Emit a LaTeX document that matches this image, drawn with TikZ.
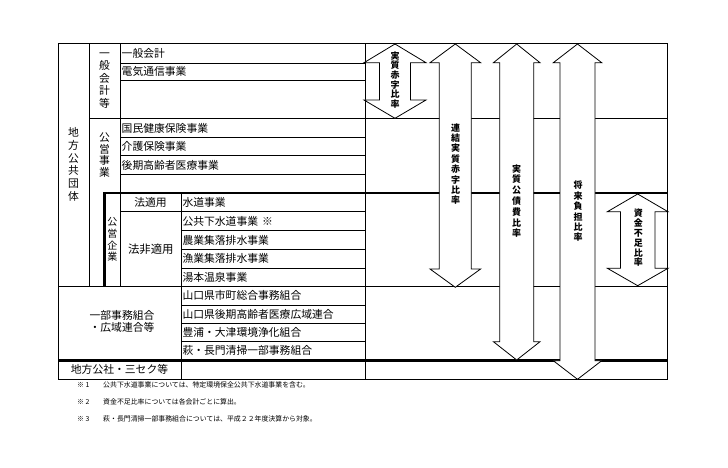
\documentclass[tikz,border=0pt]{standalone}
\usepackage{fontspec}
\setmainfont{Noto Sans CJK JP}
\newcommand{\dblarrow}[7]{% cx, head half, shaft half, tip1, base1, base2, tip2
  \draw[arr] (#1,#4) -- (#1+#2,#5) -- (#1+#3,#5) -- (#1+#3,#6) -- (#1+#2,#6) -- (#1,#7)
    -- (#1-#2,#6) -- (#1-#3,#6) -- (#1-#3,#5) -- (#1-#2,#5) -- cycle;}
\begin{document}
\begin{tikzpicture}[x=1pt,y=-1pt,
  tl/.style={line width=0.9pt},
  tk/.style={line width=2.5pt},
  cell/.style={font=\fontsize{10.8}{12}\selectfont, inner sep=0pt, anchor=west},
  ctext/.style={font=\fontsize{10.8}{12.5}\selectfont, inner sep=0pt, align=center},
  alabel/.style={inner sep=0pt, align=center},
  note/.style={font=\fontsize{6.9}{8}\selectfont, inner sep=0pt, anchor=west},
  arr/.style={draw, fill=white, line width=0.8pt, line join=miter}
]
\useasboundingbox (0,0) rectangle (728,468);
% outer frame
\draw[tl] (58,43.3) rectangle (667.5,379.3);
% vertical lines
\draw[tl] (89,43.3) -- (89,286);
\draw[tl] (120,43.3) -- (120,286);
\draw[tl] (181,193) -- (181,379.3);
\draw[tl] (365,43.3) -- (365,379.3);
\draw[tk] (104.3,193) -- (104.3,286);
% horizontal thin lines (left part)
\foreach \yy in {63.3,80.3,137.7,155.7,174.3,211.7} \draw[tl] (120,\yy) -- (365,\yy);
\foreach \yy in {230.7,249.3,268.3,305,323.3,341.7} \draw[tl] (181,\yy) -- (365,\yy);
\draw[tl] (89,118.3) -- (667.5,118.3);
\draw[tl] (58,286) -- (667.5,286);
\draw[tk] (103.1,193) -- (667.5,193);
\draw[tk] (58,360.5) -- (667.5,360.5);
% vertical labels
\node[ctext, font=\fontsize{10.8}{12.7}\selectfont] (ltitle) at (73.5,164.5) {地\\方\\公\\共\\団\\体};
\node[ctext] (lippan) at (104.5,80.5) {一\\般\\会\\計\\等};
\node[ctext, font=\fontsize{10.8}{11.7}\selectfont] (koei) at (104.5,155) {公\\営\\事\\業};
\node[ctext, font=\fontsize{10}{11.7}\selectfont] (kigyo) at (112.3,239.5) {公\\営\\企\\業};
\node[ctext] (hotekiyo) at (150.5,202.3) {法適用};
\node[ctext, font=\fontsize{11.4}{12.5}\selectfont] (hihotekiyo) at (150.8,249) {法非適用};
\node[ctext, font=\fontsize{10.8}{12.5}\selectfont] (kumiai) at (122,321.5) {一部事務組合\\・広域連合等};
\node[ctext] (kosha) at (119.5,369.8) {地方公社・三セク等};
% names
\node[cell] (c1) at (121.5,53.3) {一般会計};
\node[cell] (c2) at (121.5,71.8) {電気通信事業};
\node[cell] (c3) at (121.5,128) {国民健康保険事業};
\node[cell] (c4) at (121.5,146.7) {介護保険事業};
\node[cell] (c5) at (121.5,165) {後期高齢者医療事業};
\node[cell] (c6) at (182.3,202.3) {水道事業};
\node[cell] (c7) at (182.3,221.2) {公共下水道事業\hspace{4pt}※};
\node[cell] (c8) at (182.3,240) {農業集落排水事業};
\node[cell] (c9) at (182.3,258.8) {漁業集落排水事業};
\node[cell] (c10) at (182.3,277.2) {湯本温泉事業};
\node[cell] (c11) at (182.3,295.5) {山口県市町総合事務組合};
\node[cell] (c12) at (182.3,314.2) {山口県後期高齢者医療広域連合};
\node[cell] (c13) at (182.3,332.5) {豊浦・大津環境浄化組合};
\node[cell] (c14) at (182.3,350.8) {萩・長門清掃一部事務組合};
% arrows
\dblarrow{395}{31}{15.5}{44}{62.7}{100}{118.3}
\dblarrow{455.3}{25.3}{16}{44}{62.7}{269}{287.3}
\dblarrow{516.7}{23.3}{17}{44}{62.7}{341.7}{360}
\dblarrow{577.5}{24.2}{17.5}{44}{62.7}{360.7}{379.3}
\dblarrow{637.7}{30.3}{17.3}{194}{211.7}{268.3}{285.7}
\node[alabel, font=\fontsize{9}{9.7}\selectfont\bfseries] (a1) at (395,80) {実\\質\\赤\\字\\比\\率};
\node[alabel, font=\fontsize{9}{10.4}\selectfont\bfseries] (a2) at (455.5,164) {連\\結\\実\\質\\赤\\字\\比\\率};
\node[alabel, font=\fontsize{9}{10.8}\selectfont\bfseries] (a3) at (516.5,201) {実\\質\\公\\債\\費\\比\\率};
\node[alabel, font=\fontsize{9}{10.4}\selectfont\bfseries] (a4) at (578,211.5) {将\\来\\負\\担\\比\\率};
\node[alabel, font=\fontsize{9}{9.8}\selectfont\bfseries] (a5) at (638.3,238) {資\\金\\不\\足\\比\\率};
% footnotes
\node[note] (m1) at (77,385) {※ 1};
\node[note] (m2) at (77,402) {※ 2};
\node[note] (m3) at (77,419) {※ 3};
\node[note] (f1) at (103,385) {公共下水道事業については、特定環境保全公共下水道事業を含む。};
\node[note] (f2) at (103,402) {資金不足比率については各会計ごとに算出。};
\node[note] (f3) at (103,419) {萩・長門清掃一部事務組合については、平成２２年度決算から対象。};
\end{tikzpicture}
\end{document}
